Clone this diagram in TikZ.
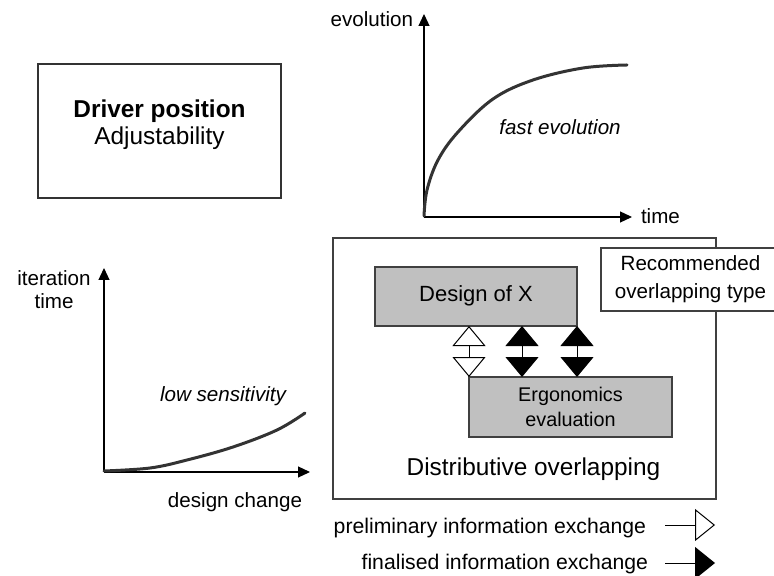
\documentclass[tikz,border=0pt]{standalone}
\usepackage{fontspec}
\setmainfont{Liberation Sans}
\usetikzlibrary{arrows.meta}

\definecolor{boxgray}{HTML}{C0C0C0}
\definecolor{inkgray}{HTML}{333333}
\definecolor{rulegray}{HTML}{404040}

\begin{document}
\begin{tikzpicture}[x=0.5pt,y=-0.5pt,
  txt/.style={font=\fontsize{10.3}{14}\selectfont, inner sep=0pt, outer sep=0pt,
    align=center, text height=0.75em, text depth=0.2em},
  multi/.style={font=\fontsize{10.3}{14}\selectfont, inner sep=0pt, outer sep=0pt,
    align=center},
  axis/.style={line width=0.6pt, -{Triangle[width=5.5pt,length=6pt]}},
  curve/.style={line width=1.5pt, inkgray, line cap=round},
  plainbox/.style={draw=rulegray, line width=0.6pt, inner sep=0pt, outer sep=0pt},
  graybox/.style={plainbox, fill=boxgray},
  openx/.style={line width=0.5pt,
    {Triangle[open,width=16.5pt,length=10pt]}-{Triangle[open,width=16.5pt,length=10pt]}},
  finalx/.style={line width=0.5pt,
    {Triangle[width=16.5pt,length=10pt]}-{Triangle[width=16.5pt,length=10pt]}},
  legtxt/.style={txt, font=\fontsize{10.6}{14}\selectfont, anchor=east},
  legopen/.style={line width=0.5pt, -{Triangle[open,width=16pt,length=10pt]}},
  legfinal/.style={line width=0.5pt, -{Triangle[width=16pt,length=10pt]}}]

\useasboundingbox (0,0) rectangle (774,576);
\clip (0,0) rectangle (774,576);

% ---- driver box ----
\node[draw=inkgray, line width=1.25pt, minimum width=121.5pt, minimum height=67pt,
  inner sep=0pt] (driver) at (159.5,131) {};
\node[multi, font=\fontsize{12.2}{13.5}\selectfont] (drvtext) at (159.5,125)
  {\textbf{Driver position}\\Adjustability};

% ---- evolution graph ----
\coordinate (eo) at (424,217);
\coordinate (ey) at (424,14);
\coordinate (ex) at (632,217);
\draw[axis] (eo) -- (ey);
\draw[axis] (eo) -- (ex);
\node[txt, anchor=east] (evol) at (413,21) {evolution};
\node[txt, anchor=west] (time) at (641,218) {time};
\draw[curve] plot[smooth, tension=0.6] coordinates
  {(424,216) (427,190) (438,160) (458,132) (493,99) (533,80) (583,68) (627,65)};
\node[txt, font=\fontsize{10.3}{14}\selectfont\itshape] (fast) at (560,129) {fast evolution};

% ---- iteration time graph ----
\coordinate (io) at (104,472);
\coordinate (iy) at (104,268);
\coordinate (ix) at (310,472);
\draw[axis] (io) -- (iy);
\draw[axis] (io) -- (ix);
\node[multi, font=\fontsize{10.3}{11.5}\selectfont] (itime) at (54,290) {iteration\\time};
\node[txt] (dchange) at (235,502) {design change};
\draw[curve] plot[smooth, tension=0.6] coordinates
  {(104,471) (150,468) (187,460) (233,447) (277,430) (305,413)};
\node[txt, font=\fontsize{10.3}{14}\selectfont\itshape] (lowsens) at (223,396) {low sensitivity};

% ---- overlapping frame ----
\node[plainbox, minimum width=191.5pt, minimum height=130.5pt] (frame) at (524.5,368.5) {};
\node[plainbox, fill=white, minimum width=89.5pt, minimum height=31.5pt,
  multi] (rec) at (690.5,279.5)
  {Recommended\\overlapping type};
\node[graybox, minimum width=101pt, minimum height=29.5pt, txt,
  font=\fontsize{11}{13}\selectfont] (design) at (476,296.5) {Design of X};
\node[graybox, minimum width=101.5pt, minimum height=30pt, multi,
  font=\fontsize{9.9}{12.5}\selectfont] (ergo) at (570.5,407)
  {Ergonomics\\evaluation};
\node[txt, font=\fontsize{12.2}{14}\selectfont] (distrib) at (533.5,470) {Distributive overlapping};

% information exchanges between the two activities
\coordinate (midtop) at (522,0 |- design.south);
\coordinate (midbot) at (522,0 |- ergo.north);
\draw[openx] (design.south -| ergo.west) -- (ergo.north west);
\draw[finalx] (midtop) -- (midbot);
\draw[finalx] (design.south east) -- (ergo.north -| design.east);

% ---- legend ----
\node[legtxt] (prelim) at (646,528) {preliminary information exchange};
\node[legtxt] (final) at (648,564) {finalised information exchange};
\coordinate (p0) at (665,525);
\coordinate (p1) at (715,525);
\coordinate (f0) at (665,563);
\coordinate (f1) at (715,563);
\draw[legopen] (p0) -- (p1);
\draw[legfinal] (f0) -- (f1);
\end{tikzpicture}
\end{document}
